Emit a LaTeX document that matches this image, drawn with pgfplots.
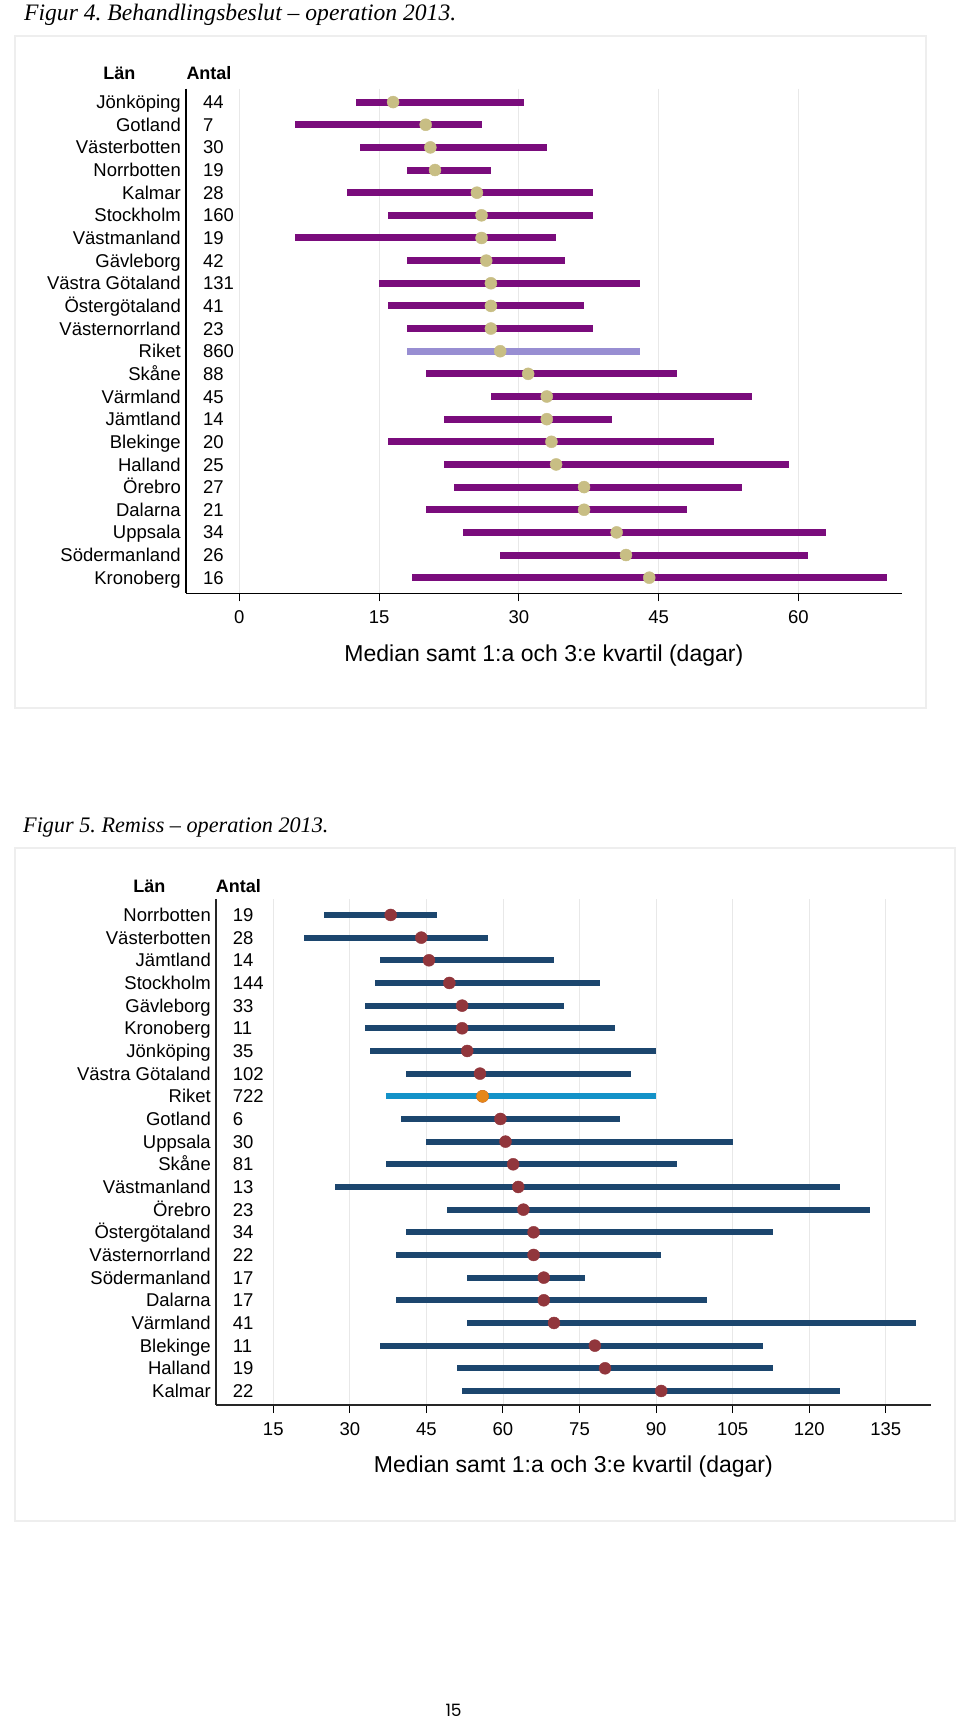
\documentclass[border=0pt]{standalone}
\usepackage{pgfplots}
\usepackage{pgfplotstable}
\pgfplotsset{compat=1.18}
\usepackage{fontspec}
\setmainfont{Liberation Sans}
\newfontfamily\titlefont{Liberation Serif}
\newfontfamily\pagefont{Poppins}
\frenchspacing

\definecolor{purpA}{RGB}{122,12,124}
\definecolor{lavA}{RGB}{152,142,210}
\definecolor{khakiA}{RGB}{200,190,132}
\definecolor{navyB}{RGB}{28,70,110}
\definecolor{cyanB}{RGB}{20,146,200}
\definecolor{maroonB}{RGB}{145,54,60}
\definecolor{orangeB}{RGB}{230,135,25}
\definecolor{gridc}{RGB}{232,232,232}
\definecolor{boxc}{RGB}{238,238,238}

\pgfplotstableread[col sep=comma]{
y,name,n,q1,med,q3
1,Jönköping,44,12.5,16.5,30.5
2,Gotland,7,6,20,26
3,Västerbotten,30,13,20.5,33
4,Norrbotten,19,18,21,27
5,Kalmar,28,11.5,25.5,38
6,Stockholm,160,16,26,38
7,Västmanland,19,6,26,34
8,Gävleborg,42,18,26.5,35
9,Västra Götaland,131,15,27,43
10,Östergötaland,41,16,27,37
11,Västernorrland,23,18,27,38
12,Riket,860,18,28,43
13,Skåne,88,20,31,47
14,Värmland,45,27,33,55
15,Jämtland,14,22,33,40
16,Blekinge,20,16,33.5,51
17,Halland,25,22,34,59
18,Örebro,27,23,37,54
19,Dalarna,21,20,37,48
20,Uppsala,34,24,40.5,63
21,Södermanland,26,28,41.5,61
22,Kronoberg,16,18.5,44,69.5
}\tabA

\pgfplotstableread[col sep=comma]{
y,name,n,q1,med,q3
1,Norrbotten,19,25,38,47
2,Västerbotten,28,21,44,57
3,Jämtland,14,36,45.5,70
4,Stockholm,144,35,49.5,79
5,Gävleborg,33,33,52,72
6,Kronoberg,11,33,52,82
7,Jönköping,35,34,53,90
8,Västra Götaland,102,41,55.5,85
9,Riket,722,37,56,90
10,Gotland,6,40,59.5,83
11,Uppsala,30,45,60.5,105
12,Skåne,81,37,62,94
13,Västmanland,13,27,63,126
14,Örebro,23,49,64,132
15,Östergötaland,34,41,66,113
16,Västernorrland,22,39,66,91
17,Södermanland,17,53,68,76
18,Dalarna,17,39,68,100
19,Värmland,41,53,70,141
20,Blekinge,11,36,78,111
21,Halland,19,51,80,113
22,Kalmar,22,52,91,126
}\tabB

\pgfplotsset{
  regionplot/.style={
    scale only axis, enlargelimits=false, clip=false,
    axis x line*=bottom, axis y line*=left,
    axis line style={line width=1.3pt},
    y dir=reverse,
    ytick={1,...,22},
    ytick style={draw=none},
    xmajorgrids, grid style={gridc, line width=0.9pt},
    tick align=outside, major tick length=8pt,
    xtick style={black, line width=1pt},
    tick label style={font=\fontsize{18.5}{20}\selectfont},
    yticklabel style={text height=13.2pt, text depth=0pt, anchor=east, inner sep=0pt, xshift=3pt},
    xticklabel style={anchor=center, yshift=-16pt},
    /pgf/number format/assume math mode=true,
    xlabel={Median samt 1:a och 3:e kvartil (dagar)},
    xlabel style={font=\fontsize{23}{26}\selectfont, at={(axis description cs:0.5,0)}, anchor=center, yshift=-62pt},
  },
  antal/.style={only marks, mark=none, nodes near coords, point meta=explicit symbolic,
    every node near coord/.append style={anchor=west, inner sep=0pt, text height=13.2pt, text depth=0pt, font=\fontsize{18.5}{20}\selectfont, black}},
}

\begin{document}
\begin{tikzpicture}
\path[use as bounding box] (0,0) rectangle (960pt,-1723pt);
\fill[white] (0,0) rectangle (960pt,-1723pt);

% ---------- Figur 4 ----------
\node[anchor=base west, inner sep=0pt, font=\titlefont\itshape\fontsize{23.6}{26}\selectfont] at (24pt,-21pt) {Figur 4. Behandlingsbeslut – operation 2013.};
\draw[boxc, line width=1.5pt] (15pt,-36pt) rectangle (926pt,-708pt);
\node[font=\bfseries\fontsize{18}{20}\selectfont] at (119.3pt,-73.3pt) {Län};
\node[font=\bfseries\fontsize{18}{20}\selectfont] at (209pt,-73.3pt) {Antal};

\begin{axis}[regionplot,
  at={(186pt,-593.3pt)}, anchor=south west,
  width=715.7pt, height=504.8pt,
  xmin=-5.73, xmax=71.1, ymin=0.40, ymax=22.69,
  xtick={0,15,30,45,60},
  yticklabels from table={\tabA}{name},
  axis line style={black},
]
\addplot[only marks, mark=none, forget plot,
  error bars/.cd, x dir=both, x explicit, error mark=none,
  error bar style={line width=7pt, draw=purpA}]
  table[x=med, y=y, x error plus expr=\thisrow{q3}-\thisrow{med}, x error minus expr=\thisrow{med}-\thisrow{q1}] {\tabA};
\addplot[only marks, mark=none, forget plot, restrict expr to domain={\thisrow{y}}{12:12},
  error bars/.cd, x dir=both, x explicit, error mark=none,
  error bar style={line width=7pt, draw=lavA}]
  table[x=med, y=y, x error plus expr=\thisrow{q3}-\thisrow{med}, x error minus expr=\thisrow{med}-\thisrow{q1}] {\tabA};
\addplot[only marks, mark=*, mark size=6pt, mark options={draw=khakiA, fill=khakiA}]
  table[x=med, y=y] {\tabA};
\addplot[antal] table[x expr=-3.91, y=y, meta=n] {\tabA};
\end{axis}

% ---------- Figur 5 ----------
\node[anchor=base west, inner sep=0pt, font=\titlefont\itshape\fontsize{22.2}{26}\selectfont] at (23pt,-832.3pt) {Figur 5. Remiss – operation 2013.};
\draw[boxc, line width=1.5pt] (15pt,-848pt) rectangle (955pt,-1521pt);
\node[font=\bfseries\fontsize{18}{20}\selectfont] at (149.3pt,-886pt) {Län};
\node[font=\bfseries\fontsize{18}{20}\selectfont] at (238.3pt,-886pt) {Antal};

\begin{axis}[regionplot,
  at={(216pt,-1405pt)}, anchor=south west,
  width=714.7pt, height=505.7pt,
  xmin=3.78, xmax=143.8, ymin=0.31, ymax=22.62,
  xtick={15,30,45,60,75,90,105,120,135},
  yticklabels from table={\tabB}{name},
  axis line style={black!85},
]
\addplot[only marks, mark=none, forget plot,
  error bars/.cd, x dir=both, x explicit, error mark=none,
  error bar style={line width=6pt, draw=navyB}]
  table[x=med, y=y, x error plus expr=\thisrow{q3}-\thisrow{med}, x error minus expr=\thisrow{med}-\thisrow{q1}] {\tabB};
\addplot[only marks, mark=none, forget plot, restrict expr to domain={\thisrow{y}}{9:9},
  error bars/.cd, x dir=both, x explicit, error mark=none,
  error bar style={line width=6pt, draw=cyanB}]
  table[x=med, y=y, x error plus expr=\thisrow{q3}-\thisrow{med}, x error minus expr=\thisrow{med}-\thisrow{q1}] {\tabB};
\addplot[only marks, mark=*, mark size=6pt, mark options={draw=maroonB, fill=maroonB}]
  table[x=med, y=y] {\tabB};
\addplot[only marks, mark=*, mark size=6pt, mark options={draw=orangeB, fill=orangeB}, restrict expr to domain={\thisrow{y}}{9:9}]
  table[x=med, y=y] {\tabB};
\addplot[antal] table[x expr=7.05, y=y, meta=n] {\tabB};
\end{axis}

\node[font=\pagefont\fontsize{17}{20}\selectfont] at (453.6pt,-1710pt) {15};
\end{tikzpicture}
\end{document}
